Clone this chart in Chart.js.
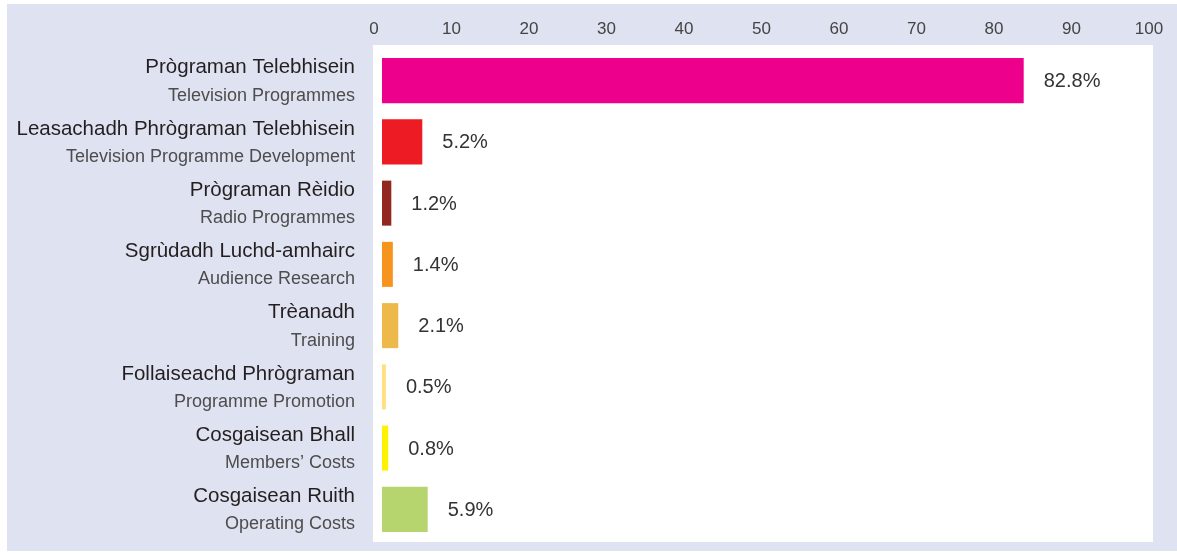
<!DOCTYPE html>
<html lang="gd">
<head>
  <meta charset="UTF-8" />
  <title>Cosgaisean</title>
  <style>
    body {
      background: #ffffff;
      margin: 0;
    }
    canvas {
      display: block;
    }
  </style>
  <script src="https://cdn.jsdelivr.net/npm/chart.js"></script>
</head>
<body>
  <canvas id="costChart" width="1177" height="555"></canvas>

  <script>
    const gaelicLabels = [
      'Prògraman Telebhisein',
      'Leasachadh Phrògraman Telebhisein',
      'Prògraman Rèidio',
      'Sgrùdadh Luchd-amhairc',
      'Trèanadh',
      'Follaiseachd Phrògraman',
      'Cosgaisean Bhall',
      'Cosgaisean Ruith'
    ];
    const englishLabels = [
      'Television Programmes',
      'Television Programme Development',
      'Radio Programmes',
      'Audience Research',
      'Training',
      'Programme Promotion',
      'Members\u2019 Costs',
      'Operating Costs'
    ];
    const shares = [82.8, 5.2, 1.2, 1.4, 2.1, 0.5, 0.8, 5.9];
    const barColors = ['#ec008c', '#ed1c24', '#92271f', '#f7941d', '#ecb94a', '#ffdf80', '#fff200', '#b7d56f'];
    const axisMin = 0;
    const axisMax = 100;
    const axisStep = 10;

    const FONT = '"Liberation Sans", Arial, sans-serif';

    // фон и белая панель под графиком
    const panelPlugin = {
      id: 'panel',
      beforeDraw(chart) {
        const { ctx, chartArea } = chart;
        ctx.save();
        ctx.fillStyle = '#dfe2f0';
        ctx.fillRect(7, 4, chart.width - 7, chart.height - 8);
        ctx.fillStyle = '#ffffff';
        ctx.fillRect(chartArea.left - 9, chartArea.top - 5,
          chartArea.right - chartArea.left + 5, chartArea.bottom - chartArea.top + 7);
        ctx.restore();
      }
    };

    // подписи категорий (две строки) и значения справа от столбцов
    const labelsPlugin = {
      id: 'labels',
      afterDraw(chart) {
        const { ctx, chartArea } = chart;
        const yScale = chart.scales.y;
        const meta = chart.getDatasetMeta(0);
        ctx.save();
        ctx.textBaseline = 'middle';
        gaelicLabels.forEach((name, i) => {
          const y = yScale.getPixelForValue(i);
          ctx.textAlign = 'right';
          ctx.fillStyle = '#231f20';
          ctx.font = '20.5px ' + FONT;
          ctx.fillText(name, chartArea.left - 27, y - 13);
          ctx.fillStyle = '#4d4d4d';
          ctx.font = '18px ' + FONT;
          ctx.fillText(englishLabels[i], chartArea.left - 27, y + 15);

          const bar = meta.data[i];
          ctx.textAlign = 'left';
          ctx.fillStyle = '#333333';
          ctx.font = '20px ' + FONT;
          ctx.fillText(shares[i].toFixed(1) + '%', bar.x + 20, bar.y + 1);
        });
        ctx.restore();
      }
    };

    const ctx = document.getElementById('costChart').getContext('2d');
    const chart = new Chart(ctx, {
      type: 'bar',
      data: {
        labels: gaelicLabels,
        datasets: [{
          data: shares,
          backgroundColor: barColors,
          borderWidth: 0,
          barPercentage: 1,
          categoryPercentage: 0.735
        }]
      },
      options: {
        indexAxis: 'y',
        responsive: false,
        animation: false,
        layout: { padding: { left: 0, right: 20, top: 0, bottom: 15 } },
        scales: {
          x: {
            position: 'top',
            min: axisMin,
            max: axisMax,
            grid: { display: false, drawTicks: false },
            border: { display: false },
            ticks: {
              stepSize: axisStep,
              color: '#444444',
              font: { family: FONT, size: 17 },
              padding: 10,
              labelOffset: -8
            },
            afterFit(scale) {
              scale.height = 50;
              scale.paddingLeft = 0;
              scale.paddingRight = 0;
            }
          },
          y: {
            grid: { display: false, drawTicks: false },
            border: { display: false },
            ticks: { display: false },
            afterFit(scale) { scale.width = 382; }
          }
        },
        plugins: {
          legend: { display: false },
          tooltip: { enabled: false }
        }
      },
      plugins: [panelPlugin, labelsPlugin]
    });
  </script>
</body>
</html>
